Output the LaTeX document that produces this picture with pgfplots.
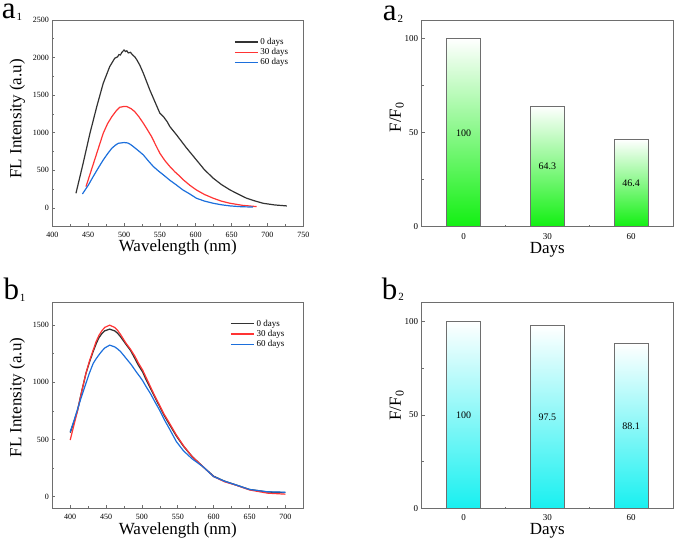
\documentclass[border=0pt]{standalone}
\usepackage{pgfplots}
\pgfplotsset{compat=1.18}
\usepackage{fontspec}
\setmainfont{Liberation Serif}
\definecolor{cblack}{HTML}{333333}
\definecolor{cred}{HTML}{FF3434}
\definecolor{cblue}{HTML}{1C6FDC}
\definecolor{framec}{HTML}{6E6E6E}
\definecolor{bargreen}{HTML}{12F012}
\definecolor{barcyan}{HTML}{18F0F0}
\pgfplotsset{
  mystyle/.style={
    scale only axis,
    axis line style={framec, line width=0.8pt},
    tick style={framec, line width=0.6pt},
    tick align=inside,
    xtick pos=left, ytick pos=left,
    major tick length=3pt, minor tick length=2pt,
    /pgf/number format/assume math mode=true,
    /pgf/number format/1000 sep={},
    scaled ticks=false,
    xticklabel style={yshift=-3pt},
    label style={font=\fontsize{17}{19}\selectfont},
  },
  linestyle/.style={
    mystyle, minor tick num=1,
    tick label style={font=\fontsize{8}{9}\selectfont},
    legend cell align=left,
    legend style={draw=none, fill=none, font=\fontsize{9}{10}\selectfont, anchor=west, inner xsep=0pt, row sep=-1.5pt},
    legend image code/.code={\draw[#1] (0pt,0pt) -- (23pt,0pt);},
  },
  barstyle/.style={
    mystyle,
    tick label style={font=\fontsize{9}{10}\selectfont},
    xmin=-15, xmax=75, ymin=0, ymax=110,
    xtick={0,30,60}, ytick={0,50,100},
    minor xtick={15,45}, minor ytick={25,75},
  },
  greenbar/.style={ybar, bar width=12, draw=framec, line width=0.7pt,
    top color=white, middle color=bargreen!22!white, bottom color=bargreen},
  cyanbar/.style={ybar, bar width=12, draw=framec, line width=0.7pt,
    top color=white, middle color=barcyan!22!white, bottom color=barcyan},
  barlabels/.style={draw=none, mark=none, nodes near coords, point meta=explicit symbolic,
    every node near coord/.append style={anchor=center, font=\fontsize{10}{11}\selectfont, black}},
}
\begin{document}
\begin{tikzpicture}
\path[use as bounding box] (0pt,0pt) rectangle (675pt,541pt);

% ---------- a1 ----------
\begin{axis}[linestyle, at={(52.3pt,315pt)}, anchor=south west,
  width=251pt, height=206pt,
  xmin=400, xmax=750, ymin=-240, ymax=2500,
  xtick={400,450,...,750}, ytick={0,500,...,2500},
  xlabel={Wavelength (nm)}, ylabel={FL Intensity (a.u)},
  xlabel style={at={(axis description cs:0.5,-0.1248)}, anchor=base},
  ylabel style={at={(axis description cs:-0.1235,0.52)}, anchor=base},
  legend style={at={(0.724,0.843)}},
]
\addplot[cblack, line width=1.2pt] coordinates {
(433,195) (443,594) (452.5,993) (462,1348) (471,1658) (480,1879) (487,1991)
(491,2010) (493,2040) (495,2035) (497,2070) (500,2100) (502,2080) (504,2090)
(506,2062) (509,2070) (512,2035) (515,2010) (518,1968) (522,1900) (527,1791)
(536,1569) (545,1370) (550,1260) (555,1214) (560,1150) (564,1081) (573,975)
(587,800) (601,638) (612,510) (624.5,395) (636,310) (648,239) (660,180)
(671,129) (683,92) (694,62) (710,40) (727,27)
};
\addlegendentry{0 days}
\addplot[cred, line width=1.2pt] coordinates {
(447,284) (455,520) (462,727) (471,993) (477,1120) (483,1214) (489,1290)
(494,1339) (500,1350) (504,1348) (510,1320) (515,1281) (521,1210) (527,1126)
(532,1050) (538.5,948) (544,840) (550,727) (557,630) (564,550) (571,480)
(578,420) (583,372) (592,300) (601,239) (612,180) (624.5,129) (636,90)
(648,62) (665,35) (685,18)
};
\addlegendentry{30 days}
\addplot[cblue, line width=1.2pt] coordinates {
(442,186) (450,300) (457,417) (464,530) (471,638) (477,720) (483,794)
(488,835) (492,860) (500,870) (505,865) (509,845) (513,816) (520,762)
(527,705) (534,625) (541,550) (548,492) (555,439) (564,368) (573,306)
(582,240) (591,190) (601,129) (612,92) (624.5,62) (636,42) (648,27)
(664,16) (680,12)
};
\addlegendentry{60 days}
\end{axis}

% ---------- a2 ----------
\begin{axis}[barstyle, at={(421.7pt,314.3pt)}, anchor=south west,
  width=251.3pt, height=206.7pt,
  xlabel={Days}, ylabel={F/F\textsubscript{0}},
  xlabel style={at={(axis description cs:0.5,-0.1287)}, anchor=base},
  ylabel style={at={(axis description cs:-0.0824,0.53)}, anchor=base},
]
\addplot[greenbar] coordinates {(0,100)};
\addplot[greenbar] coordinates {(30,64.3)};
\addplot[greenbar] coordinates {(60,46.4)};
\addplot[barlabels] coordinates {(0,50)[100] (30,32.15)[64.3] (60,23.2)[46.4]};
\end{axis}

% ---------- b1 ----------
\begin{axis}[linestyle, at={(52.3pt,33pt)}, anchor=south west,
  width=251pt, height=205.7pt,
  xmin=375, xmax=725, ymin=-100, ymax=1700,
  xtick={400,450,...,700}, ytick={0,500,...,1500},
  xlabel={Wavelength (nm)}, ylabel={FL Intensity (a.u)},
  xlabel style={at={(axis description cs:0.5,-0.131)}, anchor=base},
  ylabel style={at={(axis description cs:-0.1235,0.537)}, anchor=base},
  legend style={at={(0.708,0.846)}},
]
\addplot[cblack, line width=1.3pt] coordinates {
(400,560) (405,650) (410,750) (416,920) (422,1080) (427,1180) (432,1270)
(436,1335) (440,1390) (444,1425) (448,1450) (455,1465) (462,1450) (466,1430)
(470,1400) (478,1330) (484,1280) (490,1210) (495,1150) (501,1090) (506,1020)
(512,945) (518,870) (524.5,790) (531,710) (538,635) (548,530) (558,440)
(570,350) (585,262) (600,178) (615,135) (631,102) (650,62) (675,40) (700,35)
};
\addlegendentry{0 days}
\addplot[cred, line width=1.2pt] coordinates {
(400,495) (405,620) (410,745) (416,920) (422,1080) (427,1190) (432,1282)
(436,1355) (440,1410) (444,1450) (448,1480) (455,1500) (462,1480) (466,1455)
(470,1420) (478,1340) (484,1290) (490,1230) (495,1170) (501,1107) (506,1040)
(512,960) (518,880) (524.5,801) (531,720) (538,647) (548,539) (558,445)
(570,350) (585,262) (600,175) (615,130) (631,100) (650,58) (675,30) (700,21)
};
\addlegendentry{30 days}
\addplot[cblue, line width=1.2pt] coordinates {
(400,568) (405,660) (410,760) (416,880) (422,993) (427,1085) (432,1165)
(436,1205) (440,1240) (444,1272) (448,1300) (455,1325) (462,1310) (466,1292)
(470,1270) (478,1209) (485,1155) (492,1092) (497,1050) (501,1014) (506,960)
(512,900) (518,830) (524.5,757) (531,675) (538,597) (548,481) (558,400)
(570,330) (585,262) (600,175) (615,135) (631,102) (650,62) (675,42) (700,38)
};
\addlegendentry{60 days}
\end{axis}

% ---------- b2 ----------
\begin{axis}[barstyle, at={(421.7pt,32.3pt)}, anchor=south west,
  width=251.3pt, height=206.4pt,
  xlabel={Days}, ylabel={F/F\textsubscript{0}},
  xticklabel style={yshift=1pt},
  xlabel style={at={(axis description cs:0.5,-0.125)}, anchor=base},
  ylabel style={at={(axis description cs:-0.0824,0.5)}, anchor=base},
]
\addplot[cyanbar] coordinates {(0,100)};
\addplot[cyanbar] coordinates {(30,97.5)};
\addplot[cyanbar] coordinates {(60,88.1)};
\addplot[barlabels] coordinates {(0,50)[100] (30,48.75)[97.5] (60,44.05)[88.1]};
\end{axis}

% ---------- panel labels ----------
\node[anchor=base west, inner sep=0pt] at (1.7pt,522pt)
  {\fontsize{31}{31}\selectfont a\hspace{1pt}\raisebox{-1.7pt}{\fontsize{11}{11}\selectfont 1}};
\node[anchor=base west, inner sep=0pt] at (382.7pt,520pt)
  {\fontsize{31}{31}\selectfont a\hspace{1pt}\raisebox{-1.7pt}{\fontsize{11}{11}\selectfont 2}};
\node[anchor=base west, inner sep=0pt] at (3.3pt,241pt)
  {\fontsize{31}{31}\selectfont b\hspace{1pt}\raisebox{-1.7pt}{\fontsize{11}{11}\selectfont 1}};
\node[anchor=base west, inner sep=0pt] at (381.7pt,241.7pt)
  {\fontsize{31}{31}\selectfont b\hspace{1pt}\raisebox{-1.7pt}{\fontsize{11}{11}\selectfont 2}};
\end{tikzpicture}
\end{document}
